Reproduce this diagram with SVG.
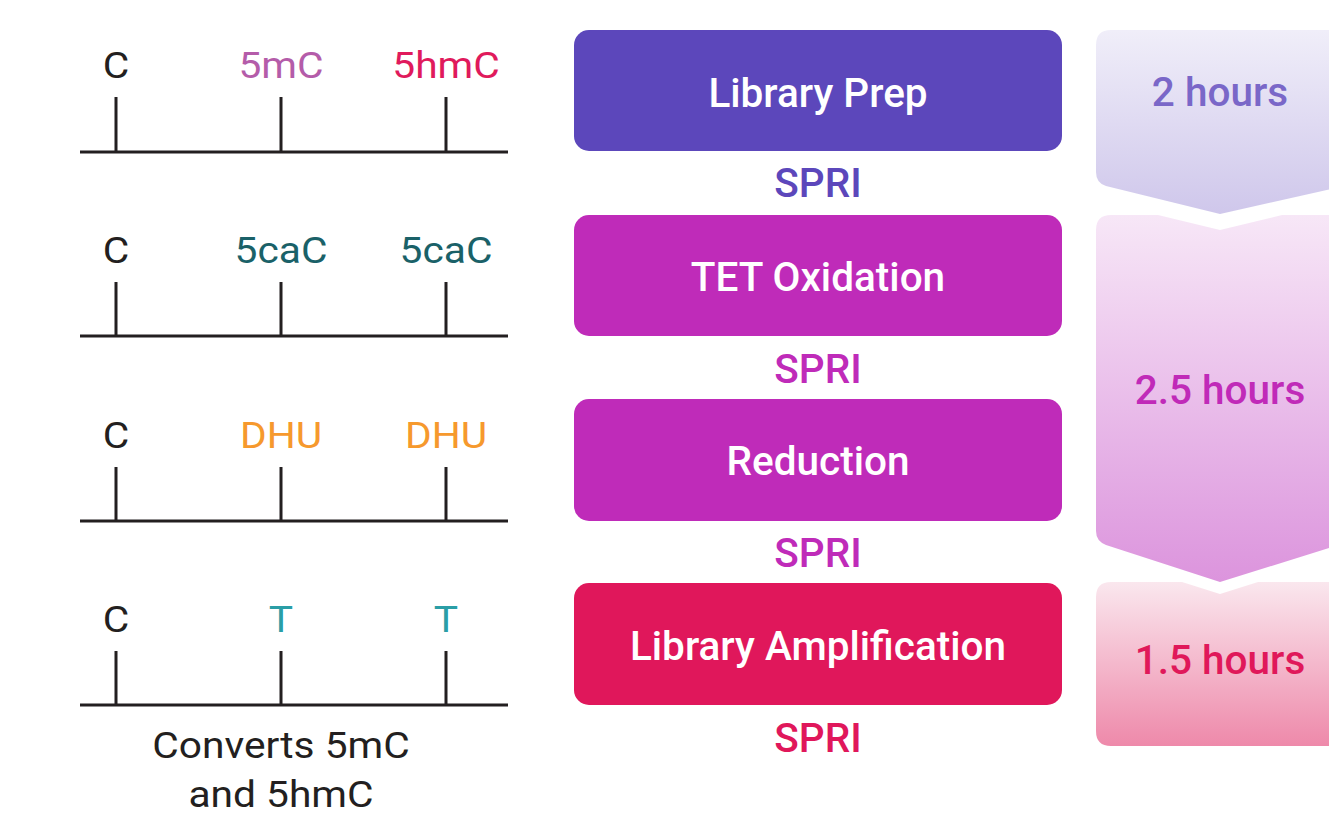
<svg xmlns="http://www.w3.org/2000/svg" width="1329" height="815" viewBox="0 0 1329 815">
<style>
text{font-family:Roboto,"Liberation Sans",sans-serif;text-anchor:middle}
.lbl{font-size:37px}
.axis{stroke:#231f20;stroke-width:3;fill:none}
.box{font-size:40.5px;fill:#ffffff;font-weight:500}
.spri{font-size:40.5px;font-weight:500}
.hrs{font-size:40.5px;font-weight:500}
</style>
<defs>
<linearGradient id="g1" x1="0" y1="0" x2="0" y2="1"><stop offset="0" stop-color="#f0eef9"/><stop offset="1" stop-color="#cfc7eb"/></linearGradient>
<linearGradient id="g2" x1="0" y1="0" x2="0" y2="1"><stop offset="0" stop-color="#f7e7f7"/><stop offset="1" stop-color="#dc94dd"/></linearGradient>
<linearGradient id="g3" x1="0" y1="0" x2="0" y2="1"><stop offset="0" stop-color="#fae7ee"/><stop offset="1" stop-color="#ee89aa"/></linearGradient>
</defs>
<rect width="1329" height="815" fill="#ffffff"/>

<g id="row1">
<path class="axis" d="M80,152H508M116,97V152M281,97V152M446,97V152"/>
<text class="lbl" transform="translate(116,78) scale(1.1,1)" fill="#231f20">C</text>
<text class="lbl" transform="translate(281,78) scale(1.1,1)" fill="#b45ca9">5mC</text>
<text class="lbl" transform="translate(446,78) scale(1.1,1)" fill="#e01a5c">5hmC</text>
</g>
<g id="row2">
<path class="axis" d="M80,336H508M116,282V336M281,282V336M446,282V336"/>
<text class="lbl" transform="translate(116,263) scale(1.1,1)" fill="#231f20">C</text>
<text class="lbl" transform="translate(281,263) scale(1.1,1)" fill="#1a6168">5caC</text>
<text class="lbl" transform="translate(446,263) scale(1.1,1)" fill="#1a6168">5caC</text>
</g>
<g id="row3">
<path class="axis" d="M80,521H508M116,467V521M281,467V521M446,467V521"/>
<text class="lbl" transform="translate(116,448) scale(1.1,1)" fill="#231f20">C</text>
<text class="lbl" transform="translate(281,448) scale(1.1,1)" fill="#f6992d">DHU</text>
<text class="lbl" transform="translate(446,448) scale(1.1,1)" fill="#f6992d">DHU</text>
</g>
<g id="row4">
<path class="axis" d="M80,705H508M116,651V705M281,651V705M446,651V705"/>
<text class="lbl" transform="translate(116,632) scale(1.1,1)" fill="#231f20">C</text>
<text class="lbl" transform="translate(281,632) scale(1.1,1)" fill="#2a9ea6">T</text>
<text class="lbl" transform="translate(446,632) scale(1.1,1)" fill="#2a9ea6">T</text>
<text class="lbl" transform="translate(281,758) scale(1.1,1)" fill="#231f20">Converts 5mC</text>
<text class="lbl" transform="translate(281,807) scale(1.1,1)" fill="#231f20">and 5hmC</text>
</g>

<g id="step-library-prep">
<rect x="574" y="30" width="488" height="121" rx="15" fill="#5c47bb"/>
<text class="box" x="818" y="107">Library Prep</text>
<text class="spri" x="818" y="197" fill="#5c47bb">SPRI</text>
</g>
<g id="step-tet">
<rect x="574" y="215" width="488" height="121" rx="15" fill="#bf2bb9"/>
<text class="box" x="818" y="291">TET Oxidation</text>
<text class="spri" x="818" y="383" fill="#bf2bb9">SPRI</text>
</g>
<g id="step-reduction">
<rect x="574" y="399" width="488" height="122" rx="15" fill="#bf2bb9"/>
<text class="box" x="818" y="475">Reduction</text>
<text class="spri" x="818" y="567" fill="#bf2bb9">SPRI</text>
</g>
<g id="step-amplification">
<rect x="574" y="583" width="488" height="122" rx="15" fill="#e0175b"/>
<text class="box" x="818" y="660">Library Amplification</text>
<text class="spri" x="818" y="752" fill="#e0175b">SPRI</text>
</g>

<g id="time-2h">
<path d="M1111,30H1345V186L1220,214L1106,186Q1096,183 1096,172V45Q1096,30 1111,30Z" fill="url(#g1)"/>
<text class="hrs" x="1220" y="106" fill="#7a67c8">2 hours</text>
</g>
<g id="time-2-5h">
<path d="M1111,215H1158L1220,230L1282,215H1345V543L1220,582L1106,545Q1096,541 1096,531V230Q1096,215 1111,215Z" fill="url(#g2)"/>
<text class="hrs" x="1220" y="404" fill="#c02ab8">2.5 hours</text>
</g>
<g id="time-1-5h">
<path d="M1111,582H1182L1220,594L1258,582H1345V746H1111Q1096,746 1096,731V597Q1096,582 1111,582Z" fill="url(#g3)"/>
<text class="hrs" x="1220" y="674" fill="#e0185a">1.5 hours</text>
</g>
<g id="connectors"></g>
</svg>
